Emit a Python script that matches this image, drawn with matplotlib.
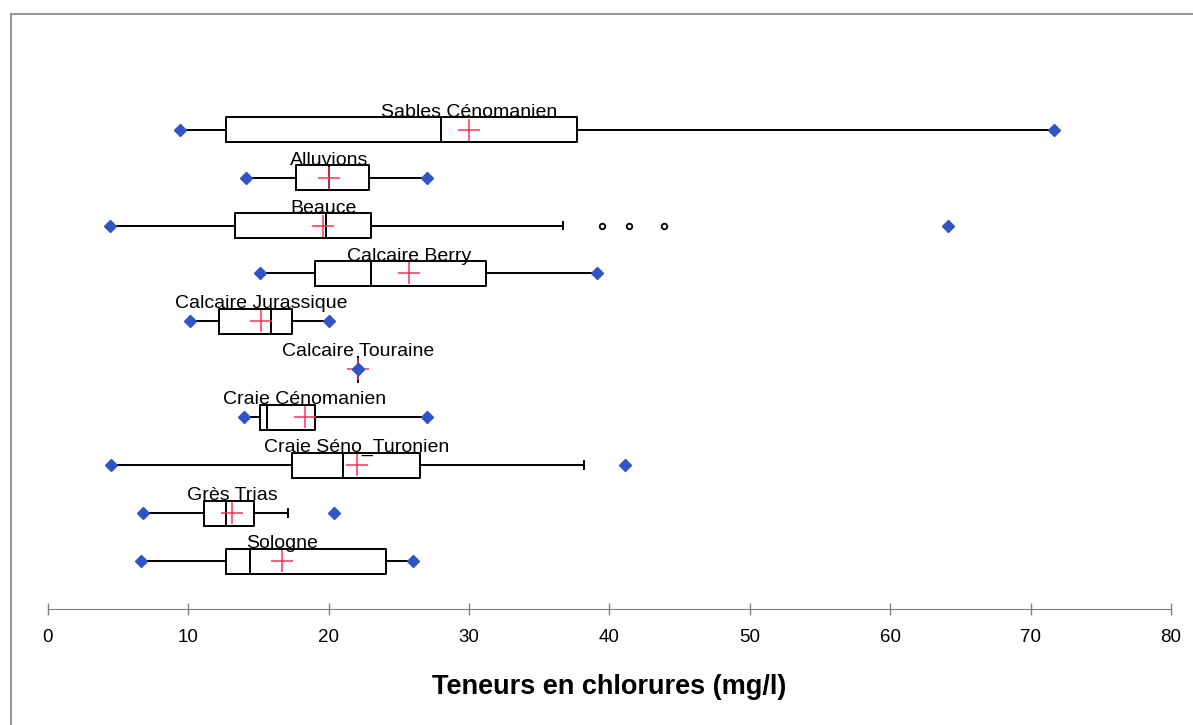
import matplotlib.pyplot as plt
import numpy as np
from matplotlib.patches import Rectangle

plt.rcParams['font.family'] = ['Liberation Sans', 'DejaVu Sans']

# Données (mg/l)
aquiferes = ["Sables Cénomanien", "Alluvions", "Beauce", "Calcaire Berry",
             "Calcaire Jurassique", "Calcaire Touraine", "Craie Cénomanien",
             "Craie Séno_Turonien", "Grès Trias", "Sologne"]
v_min = [9.4, 14.1, 4.4, 15.1, 10.1, 22.1, 14.0, 4.5, 6.8, 6.6]
q1 = [12.7, 17.7, 13.3, 19.0, 12.2, 22.1, 15.1, 17.4, 11.1, 12.7]
mediane = [28.0, 20.0, 19.8, 23.0, 15.9, 22.1, 15.6, 21.0, 12.7, 14.4]
q3 = [37.7, 22.9, 23.0, 31.2, 17.4, 22.1, 19.0, 26.5, 14.7, 24.1]
moustache_haut = [71.7, 27.0, 36.7, 39.1, 20.0, 22.1, 27.0, 38.2, 17.1, 26.0]
v_max = [71.7, 27.0, 64.1, 39.1, 20.0, 22.1, 27.0, 41.1, 20.4, 26.0]
moyenne = [30.0, 20.0, 19.6, 25.7, 15.2, 22.1, 18.3, 22.0, 13.1, 16.7]
aberrants = [[], [], [39.5, 41.4, 43.9], [], [], [], [], [], [], []]

x_ticks = [0, 10, 20, 30, 40, 50, 60, 70, 80]

bleu = '#2F55C4'
rouge = '#FF3355'
gris = '#808080'

pos = np.arange(len(aquiferes))[::-1]

fig = plt.figure(figsize=(11.93, 7.25), dpi=100)
ax = fig.add_axes([0.0402, 0.16, 0.9413, 0.757])

stats = []
for i, nom in enumerate(aquiferes):
    stats.append({'label': nom, 'whislo': v_min[i], 'q1': q1[i], 'med': mediane[i],
                  'q3': q3[i], 'whishi': moustache_haut[i], 'mean': moyenne[i],
                  'fliers': aberrants[i]})

trait = dict(color='black', linewidth=1.4)
ax.bxp(stats, positions=pos, widths=0.52, orientation='horizontal',
       showcaps=False, showmeans=True, manage_ticks=False,
       boxprops=trait, whiskerprops=trait, medianprops=trait,
       meanprops=dict(marker='+', markeredgecolor=rouge, markersize=16,
                      markeredgewidth=1.1),
       flierprops=dict(marker='o', markerfacecolor='white', markeredgecolor='black',
                       markersize=4, markeredgewidth=1.3))

# Extrémités des moustaches quand elles ne rejoignent pas le maximum
for i in range(len(aquiferes)):
    if moustache_haut[i] < v_max[i]:
        ax.plot([moustache_haut[i]] * 2, [pos[i] - 0.08, pos[i] + 0.08],
                color='black', lw=1.4)

# Min et max
ax.plot(v_min, pos, 'D', color=bleu, markersize=6, zorder=4)
ax.plot(v_max, pos, 'D', color=bleu, markersize=6, zorder=4)

# Étiquettes au-dessus des boîtes, centrées sur la moyenne
for i, nom in enumerate(aquiferes):
    ax.text(moyenne[i], pos[i] + 0.27, nom, ha='center', va='baseline',
            fontsize=14, color='black')

ax.set_xlim(0, 80)
ax.set_ylim(-1, 10.45)
ax.set_xticks(x_ticks)
ax.set_yticks([])
for s in ['left', 'right', 'top']:
    ax.spines[s].set_visible(False)
ax.spines['bottom'].set_color(gris)
ax.tick_params(axis='x', direction='inout', length=9, width=1, color=gris,
               labelsize=13.5, pad=10)
ax.set_xlabel('Teneurs en chlorures (mg/l)', fontsize=19.5, fontweight='bold',
              labelpad=20)

# Cadre de la zone de graphique
fig.patches.append(Rectangle((11 / 1193, -0.05), 1.05, 1 - 14 / 725 + 0.05,
                             transform=fig.transFigure, fill=False,
                             edgecolor='#999999', linewidth=1.5))

fig.savefig('out.png', dpi=100)
